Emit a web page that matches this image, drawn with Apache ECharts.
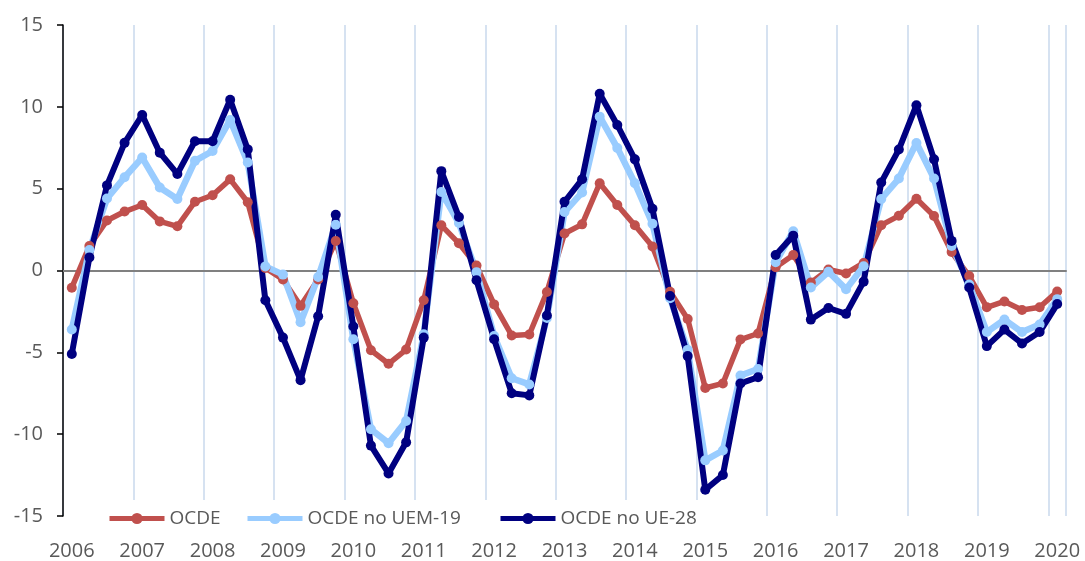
<!DOCTYPE html>
<html>
<head>
<meta charset="utf-8">
<script src="https://cdn.jsdelivr.net/npm/echarts@6/dist/echarts.min.js"></script>
<style>
html,body{margin:0;padding:0;background:#fff;}
#chart{width:1085px;height:561px;}
</style>
</head>
<body>
<div id="chart"></div>
<script>
var years = ['2006','2007','2008','2009','2010','2011','2012','2013','2014','2015','2016','2017','2018','2019','2020'];
var quarters = [];
years.forEach(function(y){ ['T1','T2','T3','T4'].forEach(function(q){ quarters.push(y + ' ' + q); }); });
quarters = quarters.slice(0, 57);

var ocde = [
  -1.05, 1.5, 3.06, 3.6,
  4.0, 3.0, 2.7, 4.2,
  4.6, 5.57, 4.17, 0.15,
  -0.55, -2.16, -0.55, 1.8,
  -2.0, -4.87, -5.7, -4.83,
  -1.82, 2.76, 1.66, 0.3,
  -2.07, -3.97, -3.91, -1.31,
  2.26, 2.82, 5.33, 4.0,
  2.76, 1.47, -1.3, -2.96,
  -7.18, -6.9, -4.22, -3.85,
  0.2, 0.95, -0.74, 0.06,
  -0.18, 0.46, 2.77, 3.34,
  4.38, 3.33, 1.13, -0.34,
  -2.25, -1.89, -2.41, -2.25,
  -1.28
];
var ocdeNoUem19 = [
  -3.6, 1.25, 4.4, 5.7,
  6.9, 5.07, 4.37, 6.7,
  7.3, 9.2, 6.6, 0.25,
  -0.25, -3.16, -0.4, 2.8,
  -4.2, -9.7, -10.55, -9.2,
  -3.9, 4.8, 2.9, -0.1,
  -4.0, -6.58, -6.96, -2.9,
  3.57, 4.77, 9.4, 7.49,
  5.33, 2.86, -1.7, -4.85,
  -11.6, -11.0, -6.42, -6.02,
  0.5, 2.4, -1.04, -0.08,
  -1.14, 0.26, 4.37, 5.62,
  7.79, 5.62, 1.5, -0.85,
  -3.76, -3.0, -3.76, -3.3,
  -1.75
];
var ocdeNoUe28 = [
  -5.1, 0.8, 5.2, 7.8,
  9.5, 7.2, 5.9, 7.9,
  7.9, 10.43, 7.4, -1.82,
  -4.1, -6.7, -2.8, 3.4,
  -3.42, -10.7, -12.4, -10.5,
  -4.1, 6.07, 3.27, -0.6,
  -4.2, -7.5, -7.63, -2.75,
  4.2, 5.57, 10.8, 8.89,
  6.79, 3.77, -1.56, -5.23,
  -13.4, -12.5, -6.9, -6.52,
  0.95, 2.13, -3.0, -2.29,
  -2.65, -0.68, 5.38, 7.39,
  10.1, 6.79, 1.81, -1.04,
  -4.62, -3.61, -4.46, -3.76,
  -2.05
];
var seriesNames = ['OCDE', 'OCDE no UEM-19', 'OCDE no UE-28'];
var seriesColors = ['#C0504D', '#99CCFF', '#000080'];
var yTicks = {min: -15, max: 15, interval: 5};

var FONT = '"Open Sans", "Liberation Sans", sans-serif';
var chart = echarts.init(document.getElementById('chart'), null, {renderer: 'canvas'});

function mkSeries(name, data, color, width) {
  return {
    name: name, type: 'line', data: data, xAxisIndex: 0,
    symbol: 'circle', symbolSize: 10, showAllSymbol: true,
    lineStyle: {color: color, width: width},
    itemStyle: {color: color},
    emphasis: {disabled: true},
    z: 3
  };
}

chart.setOption({
  animation: false,
  backgroundColor: '#fff',
  grid: {left: 63, right: 19, top: 25, bottom: 41, containLabel: false},
  xAxis: [{
    type: 'category', data: quarters, boundaryGap: true, position: 'bottom',
    axisLine: {show: false, onZero: false},
    axisTick: {show: false},
    axisLabel: {
      interval: 3, margin: 25, color: '#595959', fontSize: 20, fontFamily: FONT,
      formatter: function(v){ return v.slice(0,4); }
    },
    splitLine: {show: true, interval: 3, lineStyle: {color: '#c9d8ec', width: 1.5}}
  }, {
    type: 'category', data: quarters, boundaryGap: true, position: 'bottom',
    axisLine: {show: true, onZero: true, lineStyle: {color: '#808080', width: 2}},
    axisTick: {show: false}, axisLabel: {show: false}, splitLine: {show: false}
  }],
  yAxis: {
    type: 'value', min: yTicks.min, max: yTicks.max, interval: yTicks.interval,
    axisLine: {show: true, onZero: false, lineStyle: {color: '#000', width: 1.5}},
    axisTick: {show: true, length: 6, lineStyle: {color: '#000', width: 1.5}},
    axisLabel: {color: '#595959', fontSize: 20, fontFamily: FONT, margin: 20},
    splitLine: {show: false}
  },
  graphic: [{
    type: 'rect', silent: true, z: 1,
    shape: {x: 100, y: 500, width: 615, height: 20},
    style: {fill: '#fff'}
  }],
  legend: [
    {data: [seriesNames[0]], left: 102, top: 504},
    {data: [seriesNames[1]], left: 240, top: 504},
    {data: [seriesNames[2]], left: 493, top: 504}
  ].map(function(l){
    l.itemWidth = 55; l.itemHeight = 14; l.itemGap = 5; l.padding = 5;
    l.lineStyle = {width: 5};
    l.textStyle = {color: '#595959', fontSize: 19, fontFamily: FONT};
    l.selectedMode = false;
    return l;
  }),
  series: [
    mkSeries(seriesNames[0], ocde, seriesColors[0], 5.5),
    mkSeries(seriesNames[1], ocdeNoUem19, seriesColors[1], 6.5),
    mkSeries(seriesNames[2], ocdeNoUe28, seriesColors[2], 6)
  ]
});
</script>
</body>
</html>
